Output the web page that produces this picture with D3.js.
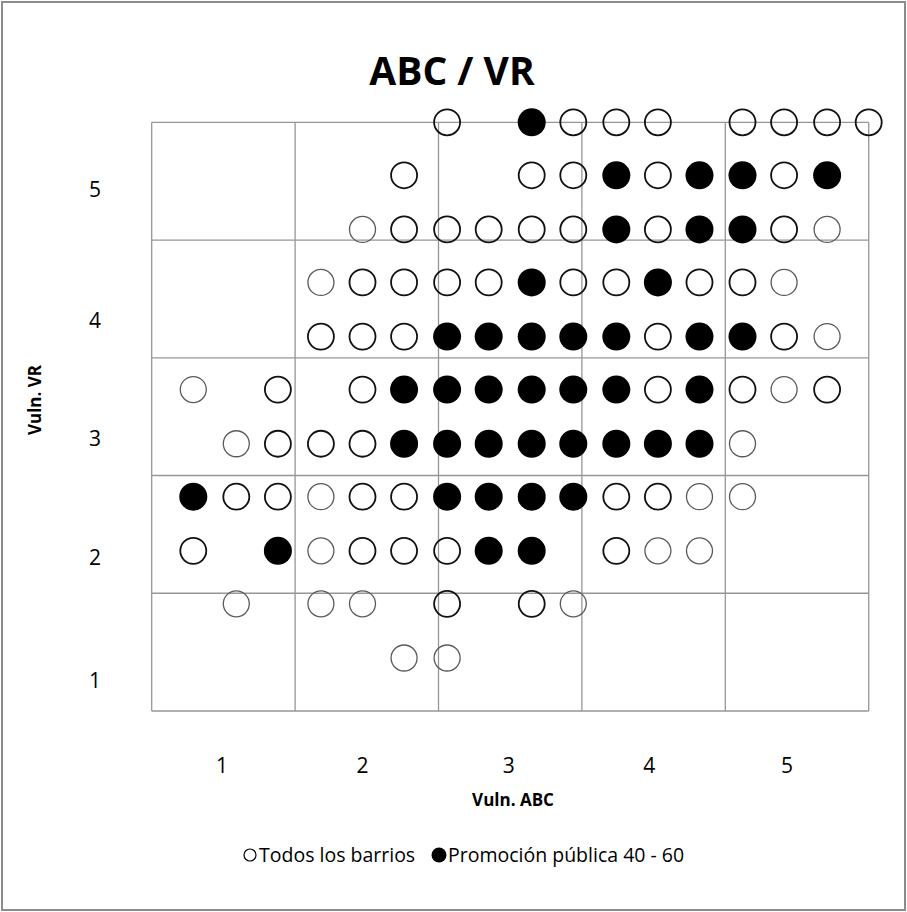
<html>
    <head>
        <style>
            body { margin: 0; background: #fff; }
            svg { display: block; }
            .chart text { font-family: "Open Sans", Lato, sans-serif; fill: #000; }
        </style>
    </head>
    <body>
        <svg class="chart" width="907" height="912"></svg>
        <script src="https://d3js.org/d3.v7.min.js"></script>
        <script>
            // Todos los barrios: [Vuln. ABC, Vuln. VR, number of overlapping barrios]
            var todos = [
                [2.06,5.00,2],[2.94,5.00,2],[3.24,5.00,2],[3.53,5.00,2],[4.12,5.00,2],[4.41,5.00,2],[4.71,5.00,2],[5.00,5.00,2],
                [1.76,4.55,2],[2.65,4.55,2],[2.94,4.55,2],[3.53,4.55,2],[4.41,4.55,2],
                [1.47,4.09,1],[1.76,4.09,2],[2.06,4.09,2],[2.35,4.09,2],[2.65,4.09,2],[2.94,4.09,2],[3.53,4.09,2],[4.41,4.09,2],[4.71,4.09,1],
                [1.18,3.64,1],[1.47,3.64,2],[1.76,3.64,2],[2.06,3.64,2],[2.35,3.64,2],[2.94,3.64,2],[3.24,3.64,2],[3.82,3.64,2],[4.12,3.64,2],[4.41,3.64,1],
                [1.18,3.18,2],[1.47,3.18,2],[1.76,3.18,2],[3.53,3.18,2],[4.41,3.18,2],[4.71,3.18,1],
                [0.29,2.73,1],[0.88,2.73,2],[1.47,2.73,2],[3.53,2.73,2],[4.12,2.73,2],[4.41,2.73,1],[4.71,2.73,2],
                [0.59,2.27,1],[0.88,2.27,2],[1.18,2.27,2],[1.47,2.27,2],[4.12,2.27,1],
                [0.59,1.82,2],[0.88,1.82,2],[1.18,1.82,1],[1.47,1.82,2],[1.76,1.82,2],[3.24,1.82,2],[3.53,1.82,2],[3.82,1.82,1],[4.12,1.82,1],
                [0.29,1.36,2],[1.18,1.36,1],[1.47,1.36,2],[1.76,1.36,2],[2.06,1.36,2],[3.24,1.36,2],[3.53,1.36,1],[3.82,1.36,1],
                [0.59,0.91,1],[1.18,0.91,1],[1.47,0.91,1],[2.06,0.91,2],[2.65,0.91,2],[2.94,0.91,1],
                [1.76,0.45,1],[2.06,0.45,1]
            ];

            // Promoción pública 40 - 60: [Vuln. ABC, Vuln. VR]
            var promocion = [
                [2.65,5.00],
                [3.24,4.55],[3.82,4.55],[4.12,4.55],[4.71,4.55],
                [3.24,4.09],[3.82,4.09],[4.12,4.09],
                [2.65,3.64],[3.53,3.64],
                [2.06,3.18],[2.35,3.18],[2.65,3.18],[2.94,3.18],[3.24,3.18],[3.82,3.18],[4.12,3.18],
                [1.76,2.73],[2.06,2.73],[2.35,2.73],[2.65,2.73],[2.94,2.73],[3.24,2.73],[3.82,2.73],
                [1.76,2.27],[2.06,2.27],[2.35,2.27],[2.65,2.27],[2.94,2.27],[3.24,2.27],[3.53,2.27],[3.82,2.27],
                [0.29,1.82],[2.06,1.82],[2.35,1.82],[2.65,1.82],[2.94,1.82],
                [0.88,1.36],[2.35,1.36],[2.65,1.36]
            ];

            var gridValues = [0, 1, 2, 3, 4, 5];
            var tickLabels = ["1", "2", "3", "4", "5"];
            var xLabelPos = [0.49, 1.47, 2.49, 3.47, 4.43];
            var yLabelPos = [0.26, 1.31, 2.32, 3.32, 4.43];
            var legendNames = ["Todos los barrios", "Promoción pública 40 - 60"];

            var chart = d3.select('.chart');

            var xScale = d3.scaleLinear().domain([0, 5]).range([151.7, 868.7]);
            var yScale = d3.scaleLinear().domain([0, 5]).range([711, 122.3]);

            // outer frame
            chart.append('rect')
                .attr('x', 2).attr('y', 2)
                .attr('width', 903).attr('height', 908)
                .attr('fill', 'none')
                .attr('stroke', '#8c8c8c')
                .attr('stroke-width', 2);

            // title
            chart.append('text')
                .attr('x', 452).attr('y', 85)
                .attr('text-anchor', 'middle')
                .style('font-size', '39px')
                .style('font-weight', 'bold')
                .text('ABC / VR');

            // grid
            var grid = chart.append('g').attr('class', 'grid');
            grid.selectAll('.vline').data(gridValues).enter().append('line')
                .attr('x1', function(d) { return xScale(d); })
                .attr('x2', function(d) { return xScale(d); })
                .attr('y1', yScale(0)).attr('y2', yScale(5))
                .attr('stroke', '#969696').attr('stroke-width', 1.3);
            grid.selectAll('.hline').data(gridValues).enter().append('line')
                .attr('y1', function(d) { return yScale(d); })
                .attr('y2', function(d) { return yScale(d); })
                .attr('x1', xScale(0)).attr('x2', xScale(5))
                .attr('stroke', '#969696').attr('stroke-width', 1.3);

            // tick labels
            chart.selectAll('.xlab').data(tickLabels).enter().append('text')
                .attr('x', function(d, i) { return xScale(xLabelPos[i]); })
                .attr('y', 773)
                .attr('text-anchor', 'middle')
                .style('font-size', '21px')
                .text(function(d) { return d; });

            chart.selectAll('.ylab').data(tickLabels).enter().append('text')
                .attr('x', 95)
                .attr('y', function(d, i) { return yScale(yLabelPos[i]) + 8; })
                .attr('text-anchor', 'middle')
                .style('font-size', '21px')
                .text(function(d) { return d; });

            // axis titles
            chart.append('text')
                .attr('x', 513).attr('y', 806)
                .attr('text-anchor', 'middle')
                .style('font-size', '17px')
                .style('font-weight', 'bold')
                .text('Vuln. ABC');

            chart.append('text')
                .attr('transform', 'translate(41,400) rotate(-90)')
                .attr('text-anchor', 'middle')
                .style('font-size', '17px')
                .style('font-weight', 'bold')
                .text('Vuln. VR');

            // open circles (all barrios)
            chart.append('g').selectAll('circle')
                .data(todos).enter().append('circle')
                .attr('cx', function(d) { return xScale(d[0]); })
                .attr('cy', function(d) { return yScale(d[1]); })
                .attr('r', 13)
                .attr('fill', 'none')
                .attr('stroke', function(d) { return d[2] > 1 ? '#111' : '#5a5a5a'; })
                .attr('stroke-width', function(d) { return d[2] > 1 ? 1.8 : 1.3; });

            // filled circles (promoción pública)
            chart.append('g').selectAll('circle')
                .data(promocion).enter().append('circle')
                .attr('cx', function(d) { return xScale(d[0]); })
                .attr('cy', function(d) { return yScale(d[1]); })
                .attr('r', 14)
                .attr('fill', '#000');

            // legend
            var legend = chart.append('g').attr('class', 'legend');
            legend.append('circle')
                .attr('cx', 250).attr('cy', 855).attr('r', 6)
                .attr('fill', 'none').attr('stroke', '#000').attr('stroke-width', 1.2);
            legend.append('text')
                .attr('x', 259).attr('y', 862)
                .style('font-size', '19.5px')
                .text(legendNames[0]);
            legend.append('circle')
                .attr('cx', 439).attr('cy', 855).attr('r', 7.5)
                .attr('fill', '#000');
            legend.append('text')
                .attr('x', 448).attr('y', 862)
                .style('font-size', '19.5px')
                .text(legendNames[1]);
        </script>
    </body>
</html>
